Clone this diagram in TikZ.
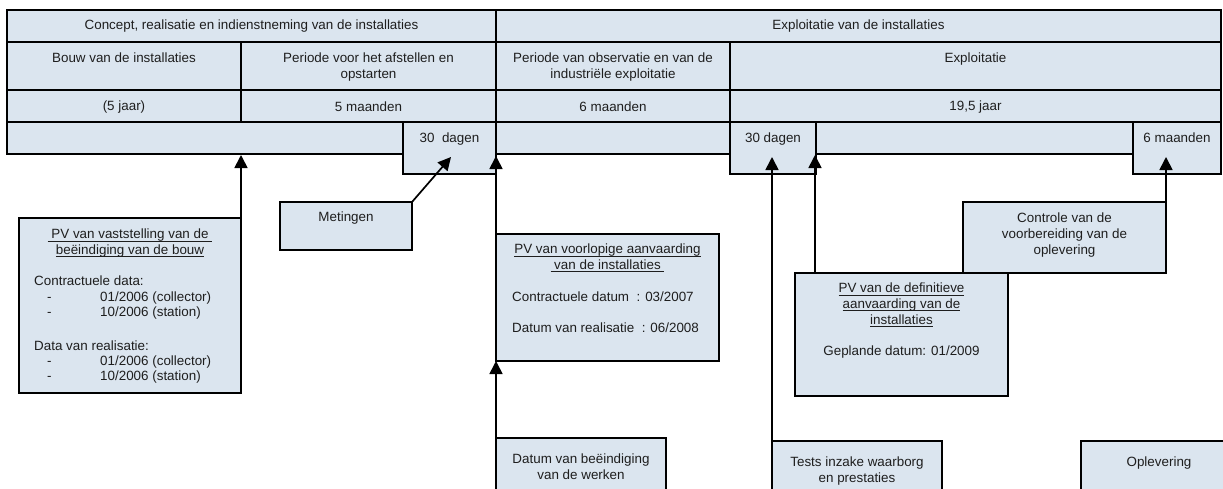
\documentclass[tikz,border=0pt]{standalone}
\usepackage{fontspec}
\setmainfont{Liberation Sans}
\usetikzlibrary{arrows.meta}
\definecolor{cellfill}{RGB}{219,229,239}
\definecolor{ink}{RGB}{30,30,30}
\newcommand\myul[1]{\leavevmode\setbox0\hbox{#1}\rlap{\rule[-2.4pt]{\wd0}{0.8pt}}\box0}
\begin{document}
\begin{tikzpicture}[x=1pt,y=-1pt,
  cell/.style={draw=black, fill=cellfill, line width=1.7pt},
  box/.style 2 args={cell, anchor=north west, minimum width=#1, minimum height=#2, inner sep=0pt, outer sep=0pt},
  txt/.style={font=\fontsize{13.4}{15.8}\selectfont, text=ink, align=center, inner sep=0pt, anchor=north},
  ltxt/.style={txt, align=left, anchor=north west},
  arr/.style={line width=1.7pt, -{Triangle[length=13pt,width=13pt]}},
]
\useasboundingbox (0,0) rectangle (1223,488);
\clip (0,0) rectangle (1223,488);
% ---- table ----
\node[box={489pt}{32pt}] (r1a) at (7,10) {};
\node[box={725pt}{32pt}] (r1b) at (496,10) {};
\node[box={234pt}{48pt}] (r2a) at (7,42) {};
\node[box={255pt}{48pt}] (r2b) at (241,42) {};
\node[box={234pt}{48pt}] (r2c) at (496,42) {};
\node[box={491pt}{48pt}] (r2d) at (730,42) {};
\node[box={234pt}{32pt}] (r3a) at (7,90) {};
\node[box={255pt}{32pt}] (r3b) at (241,90) {};
\node[box={234pt}{32pt}] (r3c) at (496,90) {};
\node[box={491pt}{32pt}] (r3d) at (730,90) {};
\node[box={396pt}{32pt}] (r4a) at (7,122) {};
\node[box={93pt}{52pt}] (r4b) at (403,122) {};
\node[box={234pt}{32pt}] (r4c) at (496,122) {};
\node[box={86pt}{52pt}] (r4d) at (730,122) {};
\node[box={317pt}{32pt}] (r4e) at (816,122) {};
\node[box={88pt}{52pt}] (r4f) at (1133,122) {};
% table texts
\node[txt, anchor=center] (t1a) at (r1a.center) {Concept, realisatie en indienstneming van de installaties};
\node[txt, anchor=center] (t1b) at (r1b.center) {Exploitatie van de installaties};
\node[txt] (t2a) at ([yshift=-11pt]r2a.north) {Bouw van de installaties};
\node[txt] (t2b) at ([yshift=-11pt]r2b.north) {Periode voor het afstellen en\\opstarten};
\node[txt] (t2c) at ([yshift=-11pt]r2c.north) {Periode van observatie en van de\\industriële exploitatie};
\node[txt] (t2d) at ([yshift=-11pt]r2d.north) {Exploitatie};
\node[txt, anchor=center] (t3a) at ([yshift=-1pt]r3a.center) {(5 jaar)};
\node[txt, anchor=center] (t3b) at ([yshift=-1pt]r3b.center) {5 maanden};
\node[txt, anchor=center] (t3c) at ([yshift=-1pt]r3c.center) {6 maanden};
\node[txt, anchor=center] (t3d) at ([yshift=-1pt]r3d.center) {19,5 jaar};
\node[txt] (t4b) at ([yshift=-11pt]r4b.north) {30\ \ dagen};
\node[txt] (t4d) at ([yshift=-11pt]r4d.north) {30 dagen};
\node[txt] (t4f) at ([yshift=-11pt]r4f.north) {6 maanden};
% ---- lower boxes ----
\node[box={222pt}{175pt}] (pv1) at (19,218) {};
\node[txt] (pv1t) at ([yshift=-11pt]pv1.north) {\myul{\ PV van vaststelling van de\ }\\\myul{beëindiging van de bouw}};
\node[ltxt, font=\fontsize{13.4}{15.4}\selectfont] (pv1d) at (34,276) {Contractuele data:\\
\hspace*{13pt}\makebox[53pt][l]{-}01/2006 (collector)\\
\hspace*{13pt}\makebox[53pt][l]{-}10/2006 (station)\\[18pt]
Data van realisatie:\\
\hspace*{13pt}\makebox[53pt][l]{-}01/2006 (collector)\\
\hspace*{13pt}\makebox[53pt][l]{-}10/2006 (station)};

\node[box={132pt}{48pt}] (met) at (280,202) {};
\node[txt] (mett) at ([yshift=-10pt]met.north) {Metingen};

\node[box={223pt}{127pt}] (pv2) at (496,234) {};
\node[txt] (pv2t) at ([yshift=-10pt]pv2.north) {\myul{PV van voorlopige aanvaarding}\\\myul{\ van de installaties\ }};
\node[ltxt] (pv2a) at (512,292) {Contractuele datum\ \ : 03/2007};
\node[ltxt] (pv2b) at (512,323) {Datum van realisatie\ \ : 06/2008};

\node[box={170pt}{70pt}] (dat) at (496,438) {};
\node[txt] (datt) at ([yshift=-16pt]dat.north) {Datum van beëindiging\\van de werken};

\node[box={170pt}{70pt}] (tst) at (772,441) {};
\node[txt] (tstt) at ([yshift=-16pt]tst.north) {Tests inzake waarborg\\en prestaties};

\node[box={156pt}{70pt}] (opl) at (1081,441) {};
\node[txt] (oplt) at ([yshift=-16pt]opl.north) {Oplevering};

\node[box={213pt}{123pt}] (pv3) at (795,273) {};
\node[txt] (pv3t) at ([yshift=-10pt]pv3.north) {\myul{PV van de definitieve}\\\myul{aanvaarding van de}\\\myul{installaties}};
\node[txt] (pv3d) at ([yshift=-73pt]pv3.north) {Geplande datum: 01/2009};

\node[box={203pt}{71pt}] (ctl) at (963,202) {};
\node[txt] (ctlt) at ([yshift=-11pt]ctl.north) {Controle van de\\voorbereiding van de\\oplevering};
% ---- arrow targets ----
\coordinate (e1) at (241,155);
\coordinate (e2) at (451,157);
\coordinate (e3) at (496,156);
\coordinate (e5) at (772,157);
\coordinate (e6) at (815,155);
\coordinate (e7) at (1166,157);
\coordinate (s6) at (815,273);
% ---- arrows ----
\draw[arr] (pv1.north east) -- (e1);
\draw[arr] (met.north east) -- (e2);
\draw[arr] (pv2.north west) -- (e3);
\draw[arr] (dat.north west) -- (pv2.south west);
\draw[arr] (tst.north west) -- (e5);
\draw[arr] (s6) -- (e6);
\draw[arr] (ctl.north east) -- (e7);
\end{tikzpicture}
\end{document}
